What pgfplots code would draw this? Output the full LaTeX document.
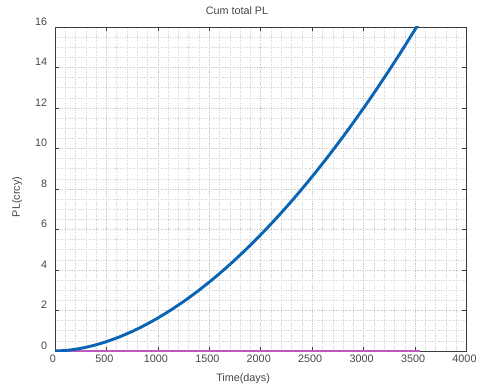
\documentclass[border=0pt]{standalone}
\usepackage{pgfplots}
\pgfplotsset{compat=1.18}
\usepackage{fontspec}
\setmainfont{Liberation Sans}
\definecolor{mblue}{RGB}{10,100,180}
\definecolor{mmag}{RGB}{190,90,190}
\definecolor{axgray}{RGB}{60,60,60}
\definecolor{txtgray}{RGB}{70,70,70}
\definecolor{gridmaj}{RGB}{200,200,200}
\definecolor{gridmin}{RGB}{215,215,215}
\begin{document}
\begin{tikzpicture}
\path[use as bounding box] (0,0) rectangle (480bp,390bp);
\begin{axis}[
  at={(55bp,39bp)}, anchor=south west,
  scale only axis, width=411.5bp, height=324bp,
  xmin=0, xmax=4000, ymin=0, ymax=16,
  xtick={0,500,...,4000}, ytick={0,2,...,16},
  minor x tick num=4, minor y tick num=3,
  grid=both,
  major grid style={gridmaj, dash pattern=on 1.2bp off 1.2bp, line width=0.5bp},
  minor grid style={gridmin, dash pattern=on 1.2bp off 1.2bp, line width=0.5bp},
  axis line style={axgray, line width=0.6bp},
  every tick/.style={axgray, line width=0.6bp},
  major tick length=4bp, minor tick length=0pt,
  tick align=inside,
  xtick pos=both, ytick pos=both,
  /pgf/number format/assume math mode=true,
  /pgf/number format/1000 sep={},
  ticklabel style={font=\fontsize{10.8bp}{12bp}\selectfont, text=txtgray},
  yticklabel style={xshift=-4.4bp, yshift=5.5bp},
  xticklabel style={xshift=-2bp, yshift=0bp},
  title={Cum total PL},
  title style={font=\fontsize{10.8bp}{12bp}\selectfont, text=txtgray, at={(rel axis cs:0.4423,1.031)}, anchor=center},
  xlabel={Time(days)},
  xlabel style={font=\fontsize{10.8bp}{12bp}\selectfont, text=txtgray, at={(rel axis cs:0.457,-0.0864)}, anchor=center},
  ylabel={PL(crcy)},
  ylabel style={font=\fontsize{10.8bp}{12bp}\selectfont, text=txtgray, at={(rel axis cs:-0.0923,0.475)}, anchor=center, rotate=0},
]
\addplot[mmag, line width=1.4bp] coordinates {(0,0) (3550,0)};
\addplot[mblue, line width=2.9bp, smooth] coordinates {
(0,0) (125,0.037) (250,0.131) (375,0.274) (500,0.463) (625,0.694) (750,0.966) (875,1.279)
(1000,1.63) (1125,2.019) (1250,2.445) (1375,2.907) (1500,3.405) (1625,3.938) (1750,4.506)
(1875,5.108) (2000,5.743) (2125,6.412) (2250,7.114) (2375,7.848) (2500,8.615) (2625,9.414)
(2750,10.245) (2875,11.106) (3000,11.999) (3125,12.922) (3250,13.878) (3375,14.862)
(3500,15.878) (3550,16.26)
};
\end{axis}
\end{tikzpicture}
\end{document}
